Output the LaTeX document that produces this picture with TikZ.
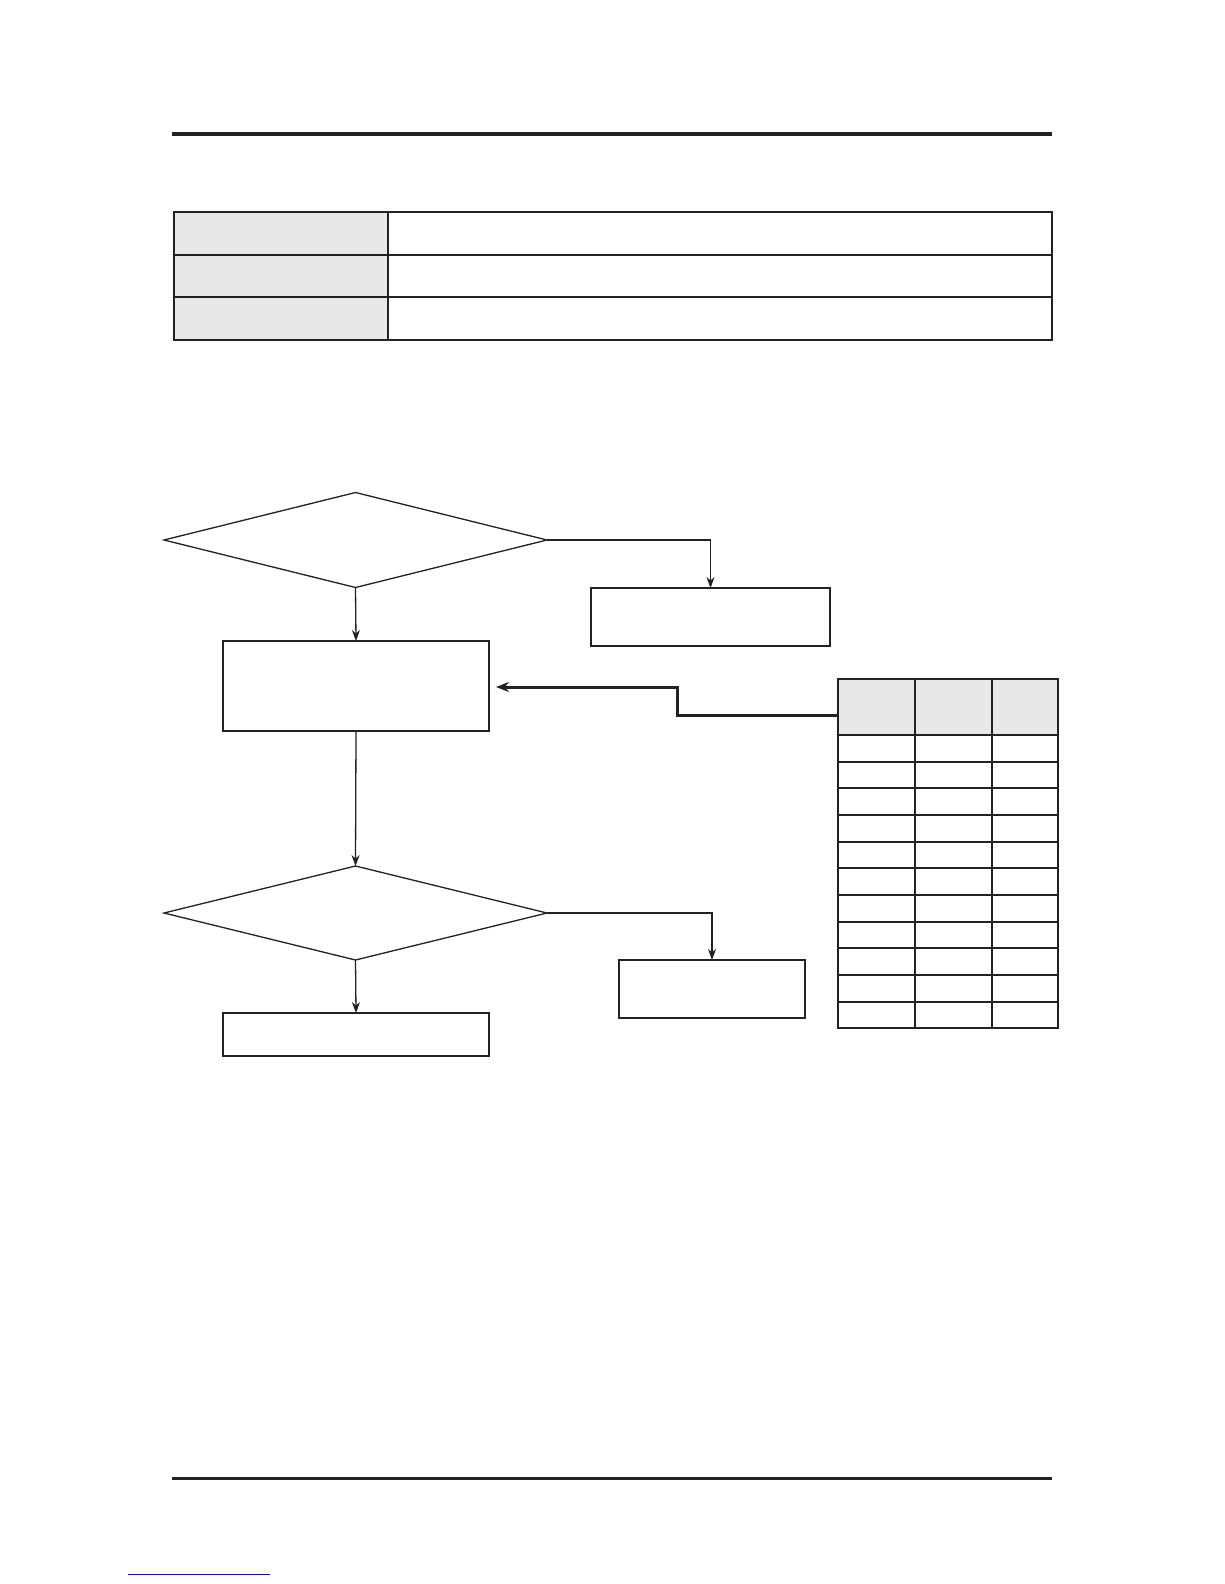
\documentclass[tikz,border=0pt]{standalone}
\usetikzlibrary{shapes.geometric,arrows.meta}
\definecolor{cellgray}{HTML}{E8E8E8}
\definecolor{linkblue}{HTML}{1010A0}
\definecolor{ink}{HTML}{222222}
\tikzset{
  box/.style={draw=ink,line width=1.3pt,rectangle,inner sep=0pt,outer sep=0pt},
  decision/.style={draw=ink,line width=1.3pt,diamond,inner sep=0pt,outer sep=0pt,aspect=4},
  flow/.style={draw=ink,line width=1.3pt,-{Stealth[length=11pt,width=8pt]}},
  heavyflow/.style={draw=ink,line width=3pt,-{Stealth[length=13pt,width=10pt]}},
  grid/.style={draw=ink,line width=2pt},
}
\begin{document}
\begin{tikzpicture}[x=1pt,y=-1pt]
\useasboundingbox (0,0) rectangle (1224,1584);
\fill[white] (0,0) rectangle (1224,1584);
% rules
\draw[ink,line width=4pt] (172,134) -- (1052,134);
\draw[ink,line width=3pt] (172,1478) -- (1052,1478);
\draw[linkblue,line width=1pt] (128,1574) -- (270,1574);
% top table
\fill[cellgray] (174,212.3) rectangle (388,340.3);
\draw[grid] (174,212.3) rectangle (1052,340.3);
\draw[grid] (388,212.3) -- (388,340.3);
\draw[grid] (174,255.3) -- (1052,255.3);
\draw[grid] (174,297.3) -- (1052,297.3);
% flowchart nodes
\node[decision,minimum width=383pt,minimum height=95pt] (d1) at (355.5,540) {};
\node[box,minimum width=239pt,minimum height=58pt] (r1) at (710.5,617) {};
\node[box,minimum width=266pt,minimum height=90pt] (b1) at (356,686) {};
\node[decision,minimum width=383pt,minimum height=94pt] (d2) at (355.5,913) {};
\node[box,minimum width=186pt,minimum height=58pt] (r2) at (712,989) {};
\node[box,minimum width=266pt,minimum height=43pt] (b2) at (356,1034.5) {};
% right table
\node[rectangle,inner sep=0pt,outer sep=0pt,minimum width=220pt,minimum height=349pt] (tab) at (948,853.8) {};
\fill[cellgray] (838,679.3) rectangle (1058,735);
\draw[grid] (838,679.3) rectangle (1058,1028.3);
\draw[grid] (915,679.3) -- (915,1028.3);
\draw[grid] (992,679.3) -- (992,1028.3);
\foreach \i in {0,...,10} {
  \draw[grid] (838,735+\i*26.66) -- (1058,735+\i*26.66);
}
% connectors
\draw[flow] (d1.east) -| (r1.north);
\draw[flow] (d1.south) -- (b1.north);
\draw[flow] (b1.south) -- (d2.north);
\draw[flow] (d2.east) -| (r2.north);
\draw[flow] (d2.south) -- (b2.north);
\coordinate (tabout) at (838,715);
\coordinate (bend) at (677,715);
\coordinate (tip) at (496,687);
\draw[heavyflow] (tabout) -- (bend) -- (bend |- tip) -- (tip);
\end{tikzpicture}
\end{document}
